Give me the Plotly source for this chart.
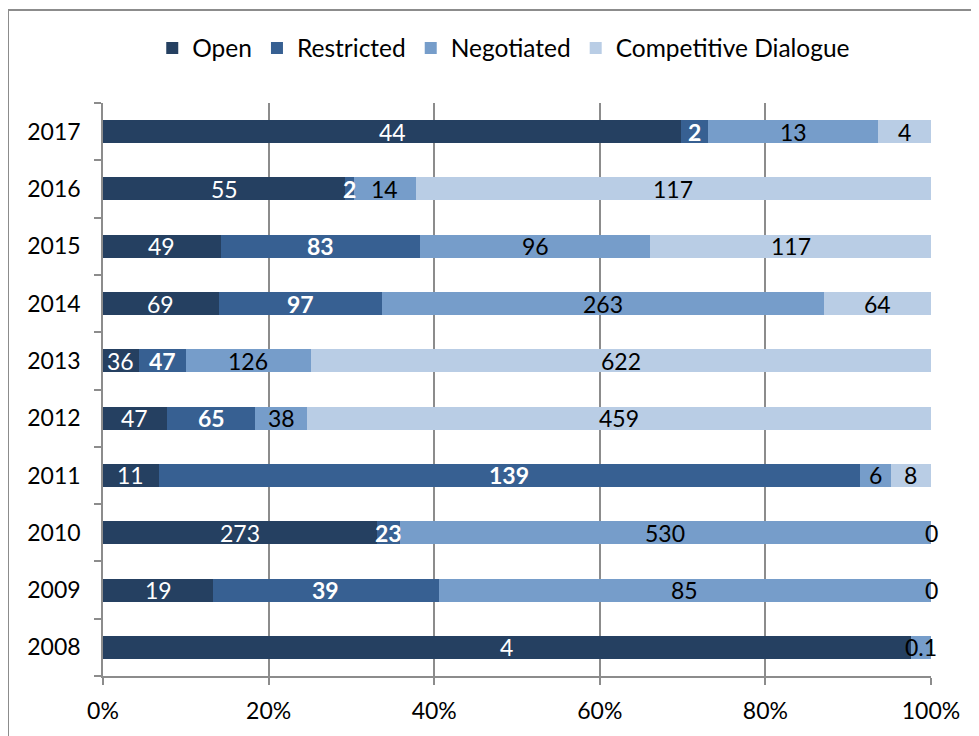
import plotly.graph_objects as go

years = ["2008", "2009", "2010", "2011", "2012", "2013", "2014", "2015", "2016", "2017"]
series_names = ["Open", "Restricted", "Negotiated", "Competitive Dialogue"]
open_vals = [4, 19, 273, 11, 47, 36, 69, 49, 55, 44]
restricted_vals = [0, 39, 23, 139, 65, 47, 97, 83, 2, 2]
negotiated_vals = [0.1, 85, 530, 6, 38, 126, 263, 96, 14, 13]
competitive_vals = [0, 0, 0, 8, 459, 622, 64, 117, 117, 4]
# which labels are displayed (as in the original chart)
open_show = [1, 1, 1, 1, 1, 1, 1, 1, 1, 1]
restricted_show = [0, 1, 1, 1, 1, 1, 1, 1, 1, 1]
negotiated_show = [1, 1, 1, 1, 1, 1, 1, 1, 1, 1]
competitive_show = [0, 1, 1, 1, 1, 1, 1, 1, 1, 1]

colors = ["#254061", "#376092", "#769DCA", "#B9CDE5"]
label_colors = ["white", "white", "black", "black"]
label_bold = [False, True, False, False]

FONT = "Lato"
FS = 23

all_vals = [open_vals, restricted_vals, negotiated_vals, competitive_vals]
all_show = [open_show, restricted_show, negotiated_show, competitive_show]
totals = [sum(v[i] for v in all_vals) for i in range(len(years))]
pcts = [[v[i] / totals[i] * 100 for i in range(len(years))] for v in all_vals]

fig = go.Figure()
for s, name in enumerate(series_names):
    fig.add_trace(go.Bar(
        name=name, y=years, x=pcts[s], orientation="h",
        marker=dict(color=colors[s], line=dict(width=0)),
        hoverinfo="skip",
    ))

annotations = []
for i, yr in enumerate(years):
    cum = 0.0
    for s in range(4):
        p = pcts[s][i]
        mid = cum + p / 2
        cum += p
        if not all_show[s][i]:
            continue
        v = all_vals[s][i]
        txt = ("%g" % v)
        if label_bold[s]:
            txt = "<b>" + txt + "</b>"
        annotations.append(dict(
            x=mid, y=i, xref="x", yref="y", text=txt, showarrow=False,
            font=dict(family=FONT, size=FS, color=label_colors[s]),
            xanchor="center", yanchor="middle",
        ))

W, H = 971, 728
L, R, T, B = 95, 48, 95, 60
pw, ph = W - L - R, H - T - B

fig.update_layout(
    width=W, height=H,
    barmode="stack", bargap=0.6,
    paper_bgcolor="white", plot_bgcolor="white",
    margin=dict(l=L, r=R, t=T, b=B, autoexpand=False),
    font=dict(family=FONT, size=FS, color="black"),
    annotations=annotations,
    legend=dict(
        orientation="h", x=0.484, xanchor="center", y=1.096, yanchor="middle",
        font=dict(family=FONT, size=24.5, color="black"),
        traceorder="normal", itemwidth=30, bgcolor="rgba(0,0,0,0)",
    ),
    xaxis=dict(
        range=[0, 100], dtick=20, ticksuffix="%", tickfont=dict(size=FS),
        showgrid=True, gridcolor="#8c8c8c", gridwidth=1.5,
        showline=True, linecolor="#8c8c8c", linewidth=1.5,
        ticks="outside", ticklen=7, tickcolor="#8c8c8c", tickwidth=1.5,
        zeroline=False, fixedrange=True, automargin=False, ticklabelstandoff=7,
    ),
    yaxis=dict(
        type="category", categoryorder="array", categoryarray=years,
        range=[-0.5, len(years) - 0.5],
        showline=True, linecolor="#8c8c8c", linewidth=1.5,
        ticks="outside", tickson="boundaries", ticklen=7,
        tickcolor="#8c8c8c", tickwidth=1.5, showgrid=False,
        tickfont=dict(size=FS), ticklabelstandoff=16, fixedrange=True,
        automargin=False,
    ),
    shapes=[dict(
        type="rect", xref="paper", yref="paper",
        x0=(0 - L) / pw, x1=(W + 20 - L) / pw,
        y0=-(B + 20) / ph, y1=(ph + T - 2) / ph,
        line=dict(color="#8c8c8c", width=2), layer="below",
    )],
)

fig.write_html("out.html")
